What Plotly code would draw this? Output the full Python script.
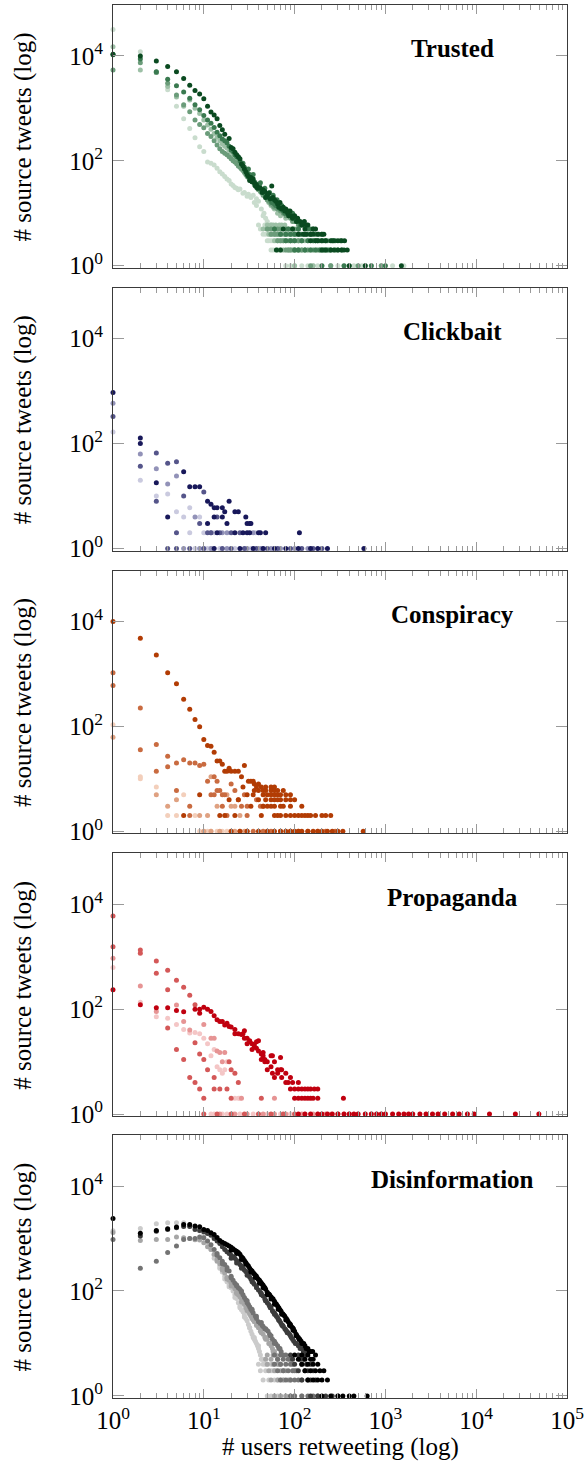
import plotly.graph_objects as go

# ---------------- data: (users retweeting, source tweets) ----------------
# Trusted
T0 = [(1,10800),(2,10000),(3,8000),(4,6300),(5,5000),(6,3700),(7,2750),(8,2200),(9,1870),(10,1520),(11,1100),(12,850),(13,750),(14,630),(15,470),(16,390),(17,320),(19,265),(20,180),(22,145),(24,120),(26,87),(28,70),(30,55),(32,42),(35,45),(38,35),(40,31),(45,28),(50,22),(56,33),(60,18),(69,16),(75,13),(80,12),(89,11),(100,9),(108,8),(128,7),(140,6),
      (21,170),(23,130),(25,110),(27,80),(29,62),(31,50),(33,48),(34,40),(36,38),(37,33),(39,30),(42,30),(44,25),(47,26),(48,20),(52,24),(54,19),(58,20),(62,17),(65,15),(67,13),(72,12),(78,11),(84,10),(86,9),(92,9),(95,8),(105,7),(115,7),(120,6),(135,6),(160,5),(170,5),
      (75,5),(95,5),(130,5),(110,4),(125,4),(135,4),(150,4),(160,4),(180,4),(200,4),(210,4),(150,3),(170,3),(180,3),(200,3),(220,3),(250,3),(270,3),(300,3),(330,3),(355,3),
      (63,2),(70,2),(200,2),(220,2),(250,2),(270,2),(300,2),(330,2),(350,2),(380,2),(400,1),(600,1),(1500,1)]
T1 = [(1,10500),(2,8700),(3,5000),(4,3600),(5,2700),(6,2050),(7,1550),(8,1170),(9,940),(10,730),(11,600),(12,520),(13,430),(14,350),(15,300),(16,260),(18,220),(20,160),(22,130),(25,100),(28,75),(30,60),(33,50),(36,40),(40,30),(44,27),(48,22),(52,20),(56,16),(60,15),(65,14),(70,12),(80,10),(90,9),(100,8),(110,7),(120,6),
      (27,90),(31,70),(35,55),(42,38),(47,30),(53,25),(58,22),(64,18),(72,14),(85,11),(95,10),
      (17,240),(19,190),(21,150),(23,120),(24,115),(26,90),(29,68),(32,55),(34,46),(38,36),(41,33),(43,28),(46,25),(50,21),(54,18),(58,17),(62,14),(67,13),(75,11),(78,10),(88,9),(95,8),(105,7),(115,6),(130,6),(150,5),(160,5),
      (60,5),(85,5),(110,5),(140,5),(70,4),(80,4),(90,4),(100,4),(115,4),(130,4),(150,4),(170,4),(185,4),(200,4),
      (80,3),(90,3),(100,3),(120,3),(140,3),(160,3),(180,3),(200,3),(220,3),(260,3),(280,3),(320,3),
      (100,2),(110,2),(130,2),(150,2),(170,2),(190,2),(210,2),(230,2),(250,2),(280,2),(300,2),(330,2),(200,1),(350,1),(700,1),(1000,1)]
T2 = [(1,5400),(2,7400),(3,4800),(4,3000),(5,1800),(6,1170),(7,860),(8,600),(9,490),(10,425),(11,330),(12,290),(13,240),(14,200),(15,170),(16,150),(18,130),(20,110),(22,95),(25,75),(28,60),(30,50),(33,42),(36,35),(40,28),(45,22),(50,18),(55,15),(60,13),(70,11),(80,9),(90,8),(100,7),(110,6),
      (17,140),(19,120),(21,100),(23,88),(24,80),(26,70),(27,65),(29,55),(31,48),(32,45),(34,40),(38,31),(42,26),(43,25),(48,20),(52,17),(58,14),(65,12),(75,10),(85,9),(95,7),(120,6),
      (50,5),(55,5),(60,5),(65,5),(70,5),(80,5),(85,5),(95,5),(100,5),(110,5),
      (55,4),(60,4),(65,4),(70,4),(80,4),(90,4),(100,4),(110,4),(120,4),(130,4),(140,4),(150,4),
      (65,3),(70,3),(75,3),(80,3),(90,3),(100,3),(110,3),(120,3),(140,3),(160,3),(170,3),(190,3),(210,3),(230,3),(260,3),
      (80,2),(85,2),(90,2),(100,2),(110,2),(120,2),(130,2),(140,2),(160,2),(180,2),(200,2),(220,2),(240,2),(150,1),(250,1),(500,1),(900,1)]
T3 = [(1,15000),(2,5400),(3,4800),(4,2600),(5,1650),(6,1100),(7,1450),(8,1000),(9,800),(10,600),(11,480),(12,400),(13,330),(14,280),(15,240),(17,190),(19,160),(21,130),(23,110),(25,90),(28,70),(31,55),(34,45),(38,35),(42,28),(46,22),(50,18),(55,14),(60,12),(65,10),(70,9),(80,8),
      (16,210),(18,175),(20,145),(22,120),(24,100),(26,82),(27,76),(29,64),(30,60),(33,48),(36,40),(40,31),(44,25),(48,20),(52,16),(58,13),
      (50,6),(55,6),(58,6),(62,6),(68,6),(72,6),(78,6),(45,5),(50,5),(52,5),(58,5),(62,5),(66,5),(72,5),(80,5),(90,5),
      (52,4),(55,4),(60,4),(62,4),(68,4),(75,4),(80,4),(85,4),(95,4),(105,4),
      (60,3),(65,3),(70,3),(75,3),(85,3),(90,3),(95,3),(110,3),(120,3),(130,3),(150,3),(170,3),
      (65,2),(70,2),(75,2),(85,2),(90,2),(95,2),(100,2),(110,2),(120,2),(130,2),(150,2),(170,2),(190,2),(210,2),
      (100,1),(160,1),(250,1),(400,1),(600,1)]
T4 = [(1,32000),(2,12000),(3,5000),(4,2250),(5,1100),(6,630),(7,415),(8,275),(9,185),(10,150),(11,95),(12,90),(13,83),(14,72),(15,62),(16,56),(17,50),(19,42),(21,34),(23,30),(25,29),(28,25),(31,23),(35,22),(38,19),(40,17),(43,12),(46,10),(48,8),
      (18,45),(20,36),(22,31),(24,28),(27,24),(30,21),(33,20),(36,16),(38,14),(45,9),(50,7),(52,6),
      (40,6),(47,6),(55,6),(42,5),(50,5),(60,5),(70,5),
      (45,4),(48,4),(52,4),(55,4),(58,4),(62,4),(65,4),(70,4),(75,4),(80,4),(90,4),(100,4),
      (50,3),(52,3),(55,3),(58,3),(62,3),(65,3),(68,3),(72,3),(75,3),(80,3),(85,3),(90,3),(95,3),(100,3),(105,3),(110,3),(115,3),
      (55,2),(58,2),(62,2),(65,2),(70,2),(75,2),(80,2),(85,2),(90,2),(95,2),(100,2),(105,2),(110,2),(115,2),(120,2),(130,2),(140,2),(150,2),(160,2),(175,2),(190,2),(200,2),(210,2),(230,2),(250,2),(280,2),
      (80,1),(90,1),(100,1),(120,1),(140,1),(160,1),(180,1),(200,1),(250,1),(300,1),(350,1),(450,1),(550,1),(700,1),(900,1),(1200,1),(1600,1)]

# Clickbait
C0 = [(1,940),(2,128),(2,100),(3,18),(4,4),(6,29),(7,15),(8,15),(9,15),(11,8),(11,3),(12,7),(13,6),(13,4),(14,6),(14,2),(16,6),(16,4),(17,5),(18,3),(19,8),(22,5),(22,2),(24,5),(27,2),(29,4),(30,3),(30,2),(32,3),(32,2),(33,3),(40,2),(42,2),(48,2),(113,2),
      (13,1),(25,1),(35,1),(45,1),(60,1),(80,1),(110,1),(150,1),(180,1),(230,1),(580,1)]
C1 = [(1,330),(2,37),(3,66),(3,8),(4,42),(5,45),(5,2),(6,10),(9,3),(10,12),(11,2),(12,2),(14,4),(15,2),(20,2),(25,2),
      (4,1),(5,1),(7,1),(10,1),(16,1),(20,1),(28,1),(38,1),(50,1),(65,1),(90,1),(120,1),(160,1),(200,1)]
C2 = [(1,590),(2,63),(3,33),(4,17),(5,24),(8,4),(12,2),(16,2),(18,2),(35,2),
      (6,1),(9,1),(12,1),(18,1),(30,1),(42,1),(55,1),(70,1),(100,1),(140,1)]
C3 = [(1,166),(2,20),(3,10),(4,11),(5,5),(6,4),(7,6),(7,2),(9,4),(10,2),(13,2),(37,2),
      (8,1),(10,1),(11,1),(12,1),(15,1),(22,1),(33,1),(45,1)]

# Conspiracy
K0 = [(1,10000),(2,4800),(3,2300),(4,1050),(5,650),(6,330),(7,213),(8,135),(9,98),(10,56),(11,43),(12,42),(13,32),(14,22),(15,22),(16,19),(17,14),(18,14),(19,16),(20,14),(22,14),(24,14),(26,11),(27,7),(28,18),
      (31,9),(33,9),(35,9),(36,8),(40,8),(38,7),(43,7),(48,7),(55,7),(60,7),
      (36,6),(40,6),(45,6),(48,6),(55,6),(60,6),(65,6),(75,6),
      (9,5),(30,5),(35,5),(45,5),(50,5),(55,5),(60,5),(65,5),(70,5),(80,5),(90,5),
      (19,4),(24,4),(40,4),(48,4),(55,4),(60,4),(65,4),(70,4),(80,4),(90,4),(100,4),
      (33,3),(45,3),(50,3),(55,3),(60,3),(70,3),(75,3),(90,3),(120,3),
      (6,2),(15,2),(17,2),(22,2),(43,2),(60,2),(65,2),(70,2),(80,2),(90,2),(100,2),(110,2),(120,2),(130,2),(140,2),(150,2),(170,2),(200,2),(220,2),(250,2),
      (20,1),(25,1),(30,1),(40,1),(50,1),(60,1),(70,1),(80,1),(90,1),(100,1),(110,1),(120,1),(140,1),(160,1),(180,1),(200,1),(230,1),(260,1),(300,1),(340,1),(570,1)]
K1 = [(1,1050),(1,600),(2,225),(2,36),(3,45),(3,14),(4,27),(4,17),(5,20),(5,6),(6,23),(7,20),(7,3),(7,2),(8,20),(9,18),(10,19),(11,9),(12,5),(13,11),(13,5),(14,9),(14,6),(15,6),(16,5),(16,3),(17,5),(18,2),(20,8),(22,6),(24,4),(26,3),(28,5),(30,3),(30,2),(38,4),(42,3),(45,3),
      (30,1),(35,1),(45,1),(55,1),(70,1),(90,1),(110,1),(140,1),(180,1),(220,1),(280,1)]
K2 = [(1,62),(3,5),(4,3),(5,4),(9,2),(11,2),(12,11),(14,3),(18,5),(20,3),(22,3),(25,2),
      (10,1),(12,1),(15,1),(22,1),(25,1),(28,1)]
K3 = [(1,107),(2,11),(2,10),(3,7),(4,2),(5,2),(6,5),(8,2),
      (9,1),(10,1),(11,1),(12,1),(14,1),(16,1),(18,1)]

# Propaganda
P0 = [(1,235),(2,122),(3,107),(4,107),(5,94),(6,89),(8,100),(9,100),(9,84),(10,109),(11,100),(12,90),(13,75),(14,63),(15,58),(16,58),(17,50),(18,54),(19,47),(20,46),(22,41),(22,34),(24,34),(26,33),(27,34),(28,39),(28,28),(30,28),(30,22),(32,25),(32,24),(34,22),(34,17),(36,21),(36,19),(38,18),(38,24),(40,25),(40,16),(43,14),(43,11),(45,13),(45,15),(47,11),(47,10),(50,10),(50,7),(55,13),(55,8),(57,13),(57,6),(60,10),(60,5),(65,7),(65,6),(70,12),(70,7),(72,7),(72,5),(80,6),(80,4),(90,5),(90,3),
      (85,4),(95,4),(110,4),(100,3),(110,3),(120,3),(130,3),(140,3),(150,3),(165,3),(180,3),
      (100,2),(110,2),(120,2),(130,2),(140,2),(150,2),(160,2),(180,2),(345,2),
      (110,1),(130,1),(150,1),(180,1),(200,1),(230,1),(260,1),(300,1),(350,1),(400,1),(450,1),(500,1),(600,1),(700,1),(800,1),(900,1),(1000,1),(1200,1),(1400,1),(1600,1),(1800,1),(2000,1),(2400,1),(2800,1),(3300,1),(3800,1),(4500,1),(5500,1),(6500,1),(8000,1),(9500,1),(14000,1),(27000,1),(49000,1)]
P1 = [(1,6000),(1,1550),(2,1350),(2,1170),(3,830),(3,485),(4,550),(4,236),(4,44),(5,355),(5,17),(6,262),(6,11),(7,185),(7,5),(8,122),(8,23),(8,4),(9,14),(9,3),(10,11),(10,2),(11,7),(13,5),(13,3),(15,3),(18,3),(19,10),(20,7),(20,2),(22,6),(24,4),(43,2),
      (10,1),(14,1),(20,1),(28,1),(40,1),(55,1),(75,1),(100,1)]
P2 = [(1,940),(2,277),(3,90),(5,120),(6,58),(7,40),(10,51),(12,28),(13,28),(14,16),(15,15),(16,10),(17,15),(26,2),(60,2),
      (15,1),(22,1),(30,1),(45,1),(60,1),(80,1),(120,1),(160,1),(220,1),(300,1),(400,1)]
P3 = [(1,620),(2,135),(3,72),(4,67),(5,51),(6,41),(7,35),(8,36),(9,34),(10,28),(11,22),(12,13),(13,17),(14,8),(15,7),(16,6),(17,7),(18,10),(22,2),(24,2),(25,2),
      (12,1),(13,1),(16,1),(18,1),(21,1),(25,1),(35,1),(50,1),(70,1),(90,1),(130,1),(180,1),(250,1),(350,1),(500,1),(700,1),(1000,1)]

# Disinformation
D0 = [(1,2400),(2,1260),(3,1430),(4,1540),(5,1660),(6,1860),(7,1860),(8,1740),(9,1680),(10,1490),(11,1420),(12,1290),(13,1200),(14,1050),(15,915),(16,850),(17,800),(18,760),(19,720),(20,680),(22,600),(24,540),(26,450),(28,380),(30,320),(32,270),(35,223),(38,190),(40,165),(43,142),(46,120),(50,95),(55,78),(60,64),(65,52),(71,41),(78,33),(85,26),(92,21),(100,17),(110,13),(118,11),(126,10),(134,8),(150,7),(158,7),
      (21,640),(23,570),(25,500),(27,420),(29,350),(31,300),(33,250),(34,240),(36,210),(37,200),(39,175),(41,160),(42,150),(44,135),(45,128),(47,115),(48,108),(52,88),(53,85),(57,72),(58,70),(62,58),(63,56),(67,48),(69,44),(74,37),(76,35),(81,30),(83,28),(88,24),(90,23),(95,20),(97,19),(104,15),(106,14),(114,12),(122,10),(130,9),(140,8),(145,7),
      (20,600),(23,520),(26,400),(29,330),(33,230),(37,180),(41,140),(45,115),(50,85),(55,70),(60,56),(66,45),(72,36),(80,28),(88,22),(96,18),(104,14),(112,12),(120,10),
      (100,6),(120,6),(140,6),(170,6),(110,5),(130,5),(150,5),(160,5),(120,4),(140,4),(160,4),(180,4),(130,3),(150,3),(170,3),(190,3),(210,3),(140,2),(160,2),(180,2),(200,2),(230,2),
      (200,1),(250,1),(300,1),(340,1),(400,1),(450,1),(630,1)]
D1 = [(2,1120),(3,1380),(4,1480),(5,1600),(6,1700),(7,1700),(8,1490),(9,1430),(10,1350),(11,1250),(12,1150),(13,1000),(14,900),(15,800),(16,700),(17,620),(18,560),(20,480),(22,420),(24,350),(27,280),(30,220),(33,170),(36,135),(40,105),(45,80),(50,60),(55,48),(60,38),(65,31),(70,25),(75,21),(80,18),(88,15),(95,12),(102,10),(110,9),(120,8),(130,7),
      (19,520),(21,450),(23,380),(25,320),(26,300),(28,250),(29,235),(31,200),(32,185),(34,160),(35,145),(38,120),(42,95),(43,90),(47,70),(48,65),(52,55),(53,52),(57,42),(58,40),(62,35),(63,33),(67,28),(68,27),(72,23),(73,22),(78,19),(83,16),(85,16),(92,13),(98,11),(105,10),(115,8),(125,7),(135,6),
      (20,420),(23,340),(26,270),(30,200),(34,150),(38,115),(43,85),(48,65),(54,48),(60,36),(67,28),(74,22),(82,17),(90,14),
      (90,6),(110,6),(130,6),(95,5),(115,5),(125,5),(100,4),(120,4),(135,4),(150,4),(110,3),(130,3),(140,3),(160,3),(120,2),(140,2),(150,2),(170,2),
      (150,1),(180,1),(220,1),(260,1),(300,1)]
D2 = [(1,960),(2,270),(3,370),(4,540),(5,720),(6,960),(7,1000),(8,1000),(9,1070),(10,1035),(11,900),(12,760),(13,620),(14,520),(15,430),(16,370),(17,320),(19,240),(20,178),(22,140),(24,115),(26,100),(28,75),(31,55),(35,38),(40,26),(45,21),(51,17),(55,14),(60,11),(65,9),(71,7),
      (18,280),(21,160),(23,125),(25,108),(27,85),(29,68),(30,60),(32,50),(33,45),(34,42),(37,33),(38,30),(42,24),(44,22),(47,19),(49,18),(53,15),(57,12),(62,10),(67,8),(69,8),(75,6),
      (14,480),(16,330),(18,250),(20,190),(23,130),(26,95),(30,65),(34,45),(38,33),(43,25),(48,19),(54,14),(60,10),
      (60,6),(70,6),(80,6),(65,5),(75,5),(85,5),(90,5),(60,4),(70,4),(80,4),(90,4),(95,4),(65,3),(75,3),(85,3),(95,3),(100,3),(105,3),(70,2),(80,2),(90,2),(100,2),(110,2),(120,2),
      (90,1),(100,1),(120,1),(140,1),(160,1),(180,1)]
D3 = [(1,1300),(2,915),(3,960),(4,960),(5,1070),(6,1035),(7,1000),(8,950),(9,935),(10,830),(11,700),(12,620),(13,500),(14,400),(15,330),(16,270),(17,220),(18,180),(20,140),(22,110),(24,85),(26,70),(28,55),(30,42),(33,33),(36,26),(40,20),(45,15),(50,12),(55,9),(60,7),
      (19,160),(21,125),(23,95),(25,78),(27,62),(29,48),(31,40),(32,36),(34,30),(35,28),(38,22),(42,17),(43,16),(47,13),(48,12),(52,10),(53,10),(57,8),(58,7),(62,6),
      (14,370),(16,250),(18,170),(20,125),(23,90),(26,62),(30,45),(34,32),(38,24),(43,18),(48,13),(54,10),
      (50,6),(58,6),(48,5),(55,5),(65,5),(50,4),(58,4),(65,4),(68,4),(70,4),(52,3),(60,3),(70,3),(75,3),(80,3),(55,2),(65,2),(75,2),(85,2),(90,2),
      (60,1),(70,1),(80,1),(100,1),(120,1)]
D4 = [(1,1400),(2,1550),(3,1920),(4,2000),(5,2000),(6,2000),(7,1740),(8,1600),(9,1400),(10,1200),(11,850),(12,620),(13,480),(14,400),(15,300),(16,230),(17,190),(19,132),(20,115),(22,85),(24,60),(26,44),(28,35),(31,23),(33,17),(35,13),(38,10),(40,8),(43,5),
      (18,150),(21,100),(23,72),(25,52),(27,40),(29,30),(30,27),(32,20),(34,15),(36,12),(37,11),(39,9),(41,7),(42,6),(44,5),(46,5),
      (13,420),(15,270),(17,170),(19,120),(22,75),(25,48),(28,32),(32,20),(36,13),(40,9),
      (40,4),(45,4),(48,4),(50,4),(55,4),(42,3),(48,3),(55,3),(58,3),(62,3),(45,2),(52,2),(60,2),(65,2),(70,2),(75,2),
      (50,1),(55,1),(60,1),(65,1),(70,1),(80,1),(90,1)]

PANEL_NAMES = ["Trusted", "Clickbait", "Conspiracy", "Propaganda", "Disinformation"]
PANEL_SERIES = [[T4, T3, T2, T1, T0], [C3, C2, C1, C0], [K3, K2, K1, K0], [P3, P2, P1, P0], [D4, D3, D2, D1, D0]]
PANEL_COLORS = [
    ["#c9dccd", "#9dc0a6", "#6b9c7a", "#3a7a50", "#0a4a20"],
    ["#cacadf", "#9292b8", "#55558a", "#18185a"],
    ["#f3cfbb", "#dfa181", "#c96b40", "#b23c04"],
    ["#f4c6c6", "#e69494", "#d45858", "#c0000f"],
    ["#cbcbcb", "#a6a6a6", "#737373", "#3c3c3c", "#000000"],
]
X_TICKS = [1, 10, 100, 1000, 10000, 100000]
X_TICKTEXT = ["10<sup>0</sup>", "10<sup>1</sup>", "10<sup>2</sup>", "10<sup>3</sup>", "10<sup>4</sup>", "10<sup>5</sup>"]
Y_TICKS = [1, 100, 10000]
Y_TICKTEXT = ["10<sup>0</sup>", "10<sup>2</sup>", "10<sup>4</sup>"]

# ---------------- layout constants ----------------
W, H = 588, 1461
ML, MR, MT, MB = 113, 16, 4, 63
PLOT_H = H - MT - MB
PANEL_TOPS = [4, 287, 570, 853, 1135]
PANEL_H = 263
FONT = "Liberation Serif, Times New Roman, serif"
MINOR = [m * 10 ** k for k in range(5) for m in range(2, 10)]

fig = go.Figure()
layout = dict(width=W, height=H, margin=dict(l=ML, r=MR, t=MT, b=MB, pad=0),
              plot_bgcolor="white", paper_bgcolor="white", showlegend=False,
              font=dict(family=FONT, color="black"))
annotations = []

for i, (name, series, colors) in enumerate(zip(PANEL_NAMES, PANEL_SERIES, PANEL_COLORS), start=1):
    sfx = "" if i == 1 else str(i)
    top = PANEL_TOPS[i - 1]
    d0 = (H - MB - (top + PANEL_H)) / PLOT_H
    d1 = (H - MB - top) / PLOT_H
    for s, c in zip(series, colors):
        fig.add_trace(go.Scatter(
            x=[p[0] for p in s], y=[p[1] for p in s], mode="markers",
            marker=dict(size=5, color=c, line=dict(width=0)),
            xaxis="x" + sfx, yaxis="y" + sfx, cliponaxis=False, hoverinfo="skip"))
    layout["xaxis" + sfx] = dict(
        type="log", range=[0, 5], domain=[0, 1], anchor="y" + sfx,
        showline=True, linecolor="#3a3a3a", linewidth=1, mirror="ticks",
        ticks="inside", ticklen=9, tickwidth=1, tickcolor="#9a9a9a",
        tickvals=X_TICKS, ticktext=X_TICKTEXT, showticklabels=(i == 5),
        ticklabeloverflow="allow",
        tickfont=dict(family=FONT, size=25, color="black"),
        showgrid=False, zeroline=False,
        minor=dict(tickvals=MINOR, ticks="inside", ticklen=5, tickwidth=1,
                   tickcolor="#9a9a9a", showgrid=False))
    layout["yaxis" + sfx] = dict(
        type="log", range=[-0.04, 4.97], domain=[d0, d1], anchor="x" + sfx,
        showline=True, linecolor="#3a3a3a", linewidth=1, mirror="ticks",
        ticks="inside", ticklen=11, tickwidth=1, tickcolor="#9a9a9a",
        tickvals=Y_TICKS, ticktext=Y_TICKTEXT,
        tickfont=dict(family=FONT, size=25, color="black"),
        ticklabelstandoff=4, showgrid=False, zeroline=False)
    annotations.append(dict(text="<b>%s</b>" % name, xref="x%s domain" % sfx, yref="y%s domain" % sfx,
                            x=0.747, y=0.833, xanchor="center", yanchor="middle", showarrow=False,
                            font=dict(family=FONT, size=25, color="black")))
    annotations.append(dict(text="# source tweets (log)", xref="paper", yref="y%s domain" % sfx,
                            x=(22 - ML) / (W - ML - MR), y=0.5, xanchor="center", yanchor="middle",
                            textangle=-90, showarrow=False,
                            font=dict(family=FONT, size=25, color="black")))

annotations.append(dict(text="# users retweeting (log)", xref="paper", yref="paper",
                        x=0.5, y=(H - MB - 1447) / PLOT_H, xanchor="center", yanchor="middle",
                        showarrow=False, font=dict(family=FONT, size=25, color="black")))
layout["annotations"] = annotations
fig.update_layout(**layout)
fig.write_html("out.html", config={"displayModeBar": False},
               post_script="document.body.style.margin='0px';")
